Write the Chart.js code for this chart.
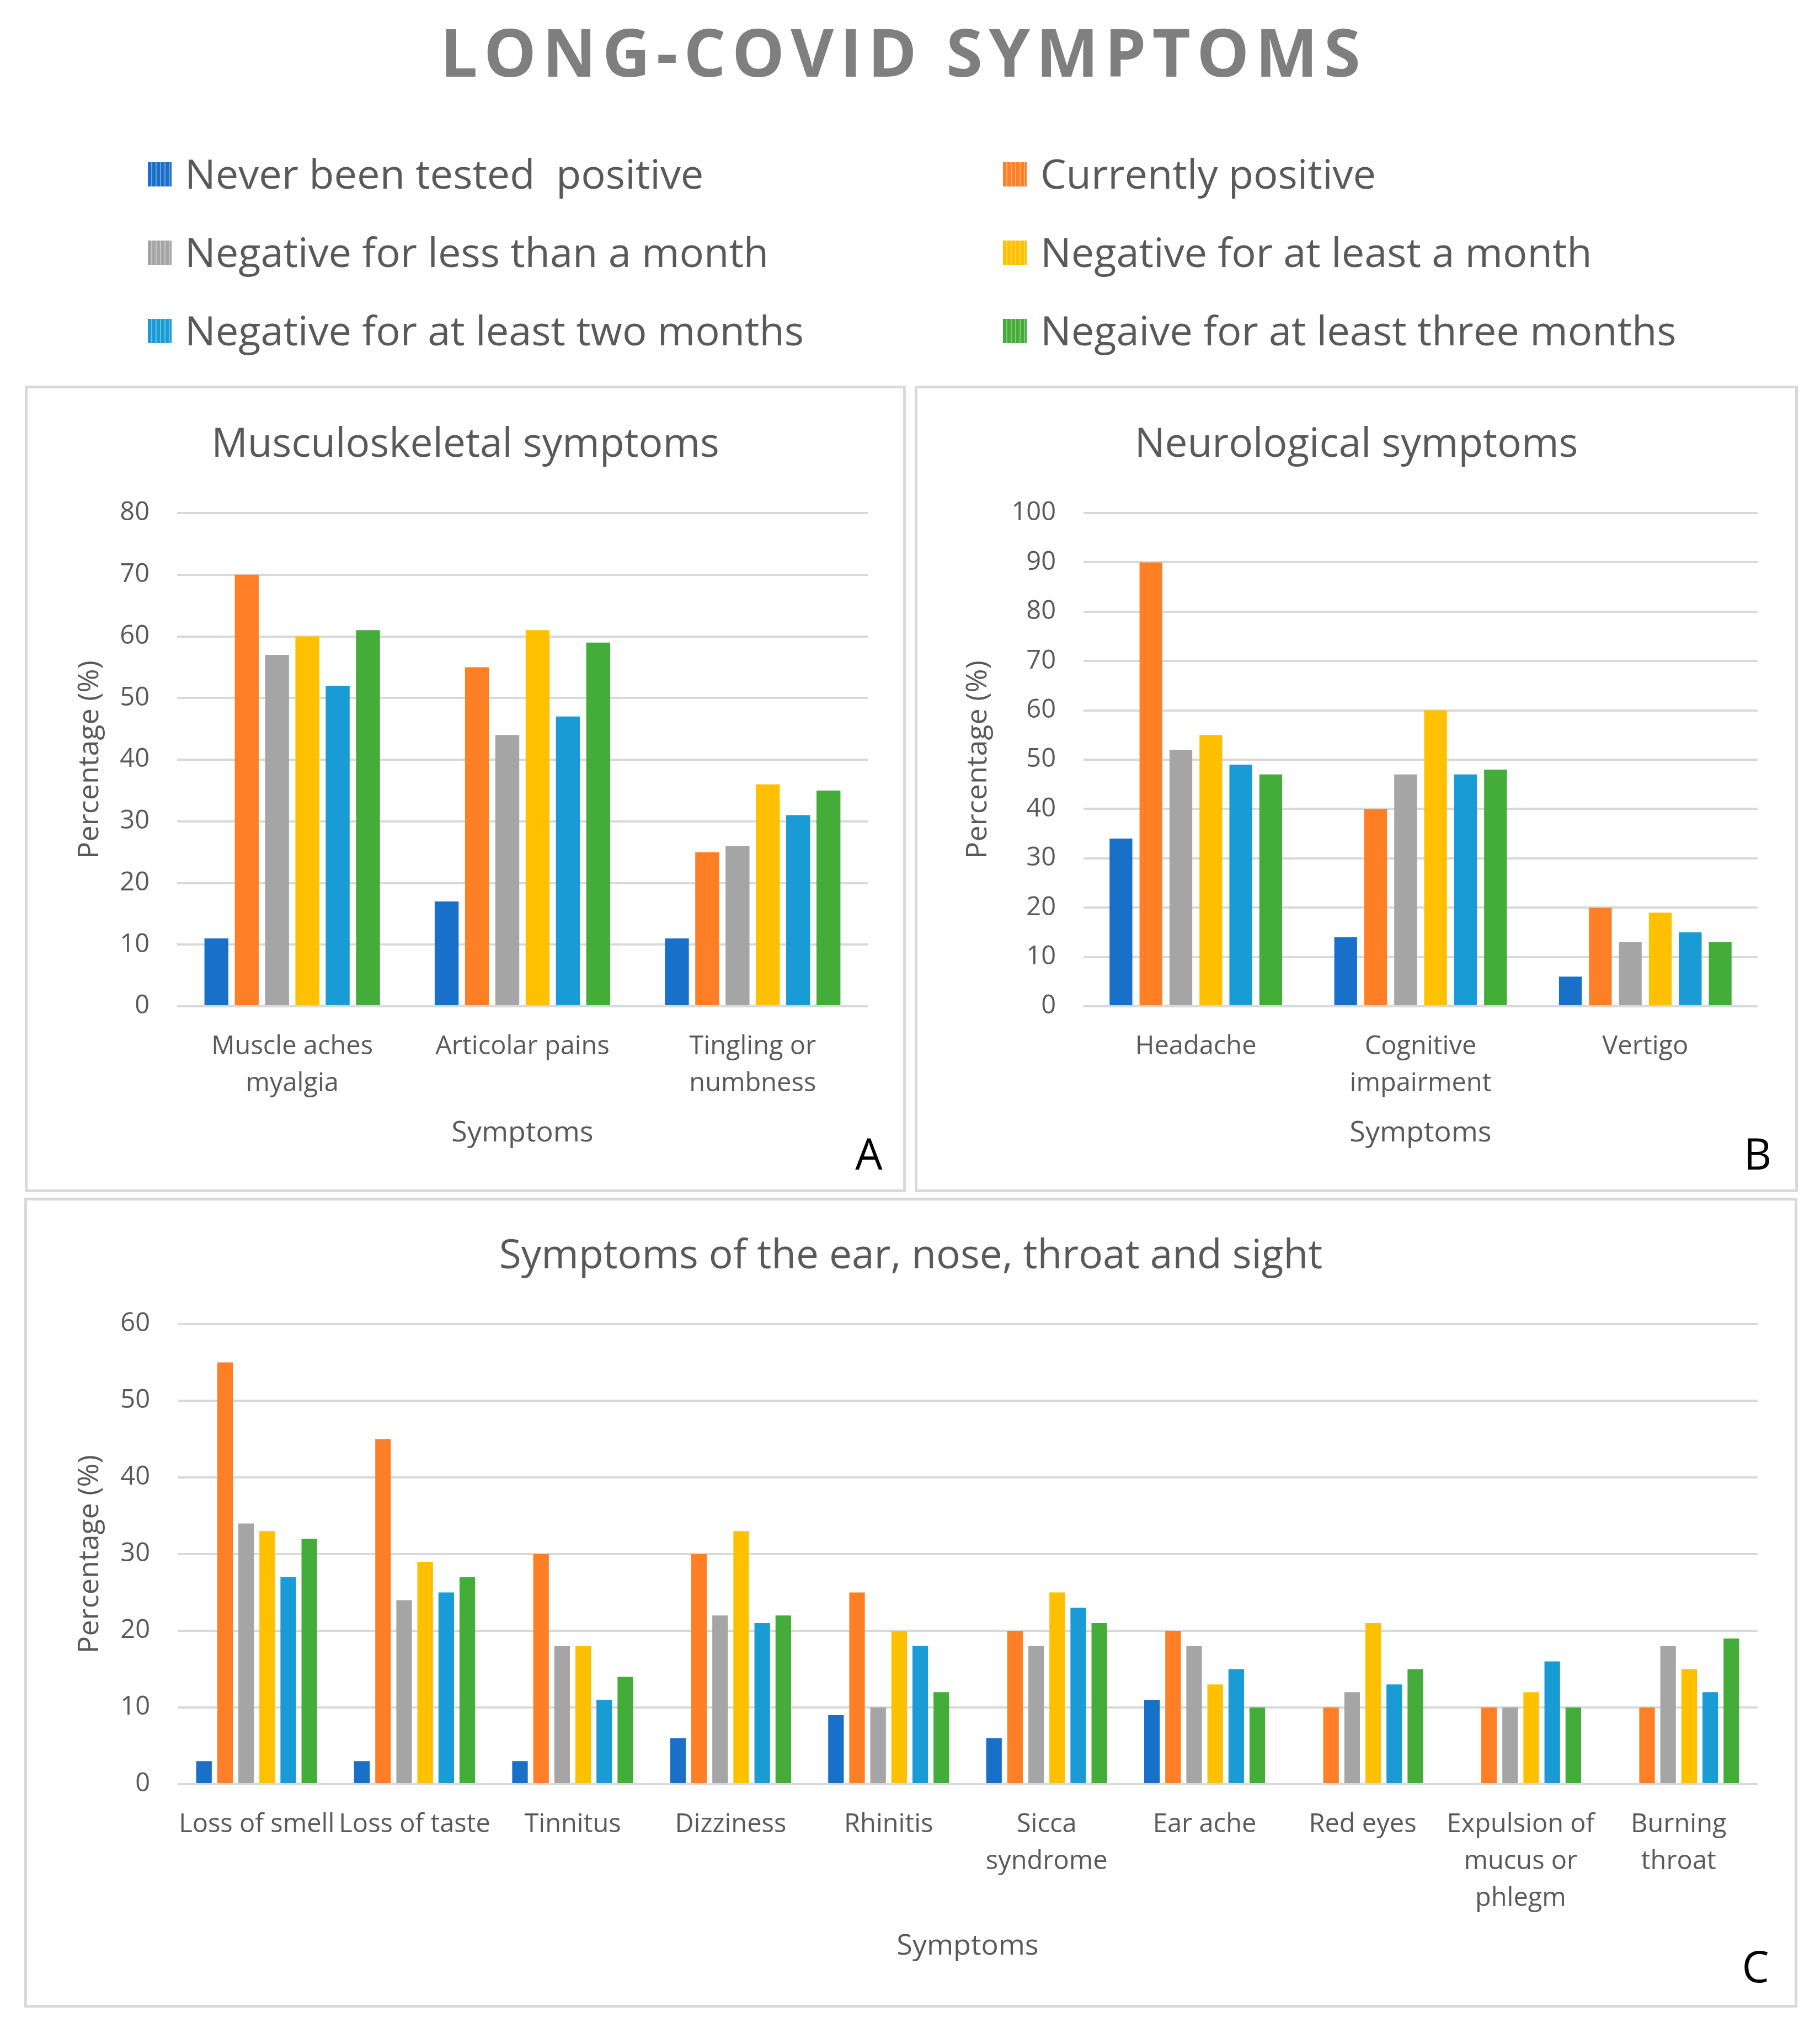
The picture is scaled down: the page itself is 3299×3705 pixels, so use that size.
<!DOCTYPE html>
<html><head><meta charset="utf-8">
<script src="https://cdn.jsdelivr.net/npm/chart.js@4.4.1/dist/chart.umd.min.js"></script>
<style>
html,body{margin:0;padding:0;background:#fff;}
body{width:3299px;height:3705px;position:relative;overflow:hidden;font-family:'Open Sans',sans-serif;}
#title{position:absolute;left:798px;top:23px;font-weight:700;font-size:120px;line-height:140px;color:#7f7f7f;letter-spacing:11px;white-space:nowrap;}
.leg{position:absolute;font-size:74px;line-height:100px;color:#595959;white-space:pre;}
.mk{position:absolute;width:43px;height:44px;}
.panel{position:absolute;border:5px solid #d9d9d9;box-sizing:border-box;pointer-events:none;}
canvas{position:absolute;}
.tag{position:absolute;width:200px;text-align:center;font-size:78px;line-height:100px;color:#000;}
</style></head>
<body>
<div id="title">LONG-COVID SYMPTOMS</div>
<div id="legend"></div>
<canvas id="cA" width="1593" height="1458" style="left:47px;top:701px;width:1593px;height:1458px"></canvas>
<canvas id="cB" width="1597" height="1458" style="left:1660px;top:701px;width:1597px;height:1458px"></canvas>
<canvas id="cC" width="3210" height="1464" style="left:46px;top:2173px;width:3210px;height:1464px"></canvas>
<div class="panel" style="left:45px;top:699px;width:1597px;height:1462px"></div>
<div class="panel" style="left:1658px;top:699px;width:1601px;height:1462px"></div>
<div class="panel" style="left:44px;top:2171px;width:3214px;height:1468px"></div>
<div class="tag" style="left:1475px;top:2040px">A</div>
<div class="tag" style="left:3086px;top:2040px">B</div>
<div class="tag" style="left:3082px;top:3513px">C</div>
<script>
// ---- data ----
const seriesNames = ["Never been tested  positive","Currently positive","Negative for less than a month","Negative for at least a month","Negative for at least two months","Negaive for at least three months"];

const catsA = [["Muscle aches","myalgia"],"Articolar pains",["Tingling or","numbness"]];
const neverA = [11,17,11];
const currentA = [70,55,25];
const lessMonthA = [57,44,26];
const oneMonthA = [60,61,36];
const twoMonthsA = [52,47,31];
const threeMonthsA = [61,59,35];

const catsB = ["Headache",["Cognitive","impairment"],"Vertigo"];
const neverB = [34,14,6];
const currentB = [90,40,20];
const lessMonthB = [52,47,13];
const oneMonthB = [55,60,19];
const twoMonthsB = [49,47,15];
const threeMonthsB = [47,48,13];

const catsC = ["Loss of smell","Loss of taste","Tinnitus","Dizziness","Rhinitis",["Sicca","syndrome"],"Ear ache","Red eyes",["Expulsion of","mucus or","phlegm"],["Burning","throat"]];
const neverC = [3,3,3,6,9,6,11,0,0,0];
const currentC = [55,45,30,30,25,20,20,10,10,10];
const lessMonthC = [34,24,18,22,10,18,18,12,10,18];
const oneMonthC = [33,29,18,33,20,25,13,21,12,15];
const twoMonthsC = [27,25,11,21,18,23,15,13,16,12];
const threeMonthsC = [32,27,14,22,12,21,10,15,10,19];

const yTicksMax = {A:80, B:100, C:60};

// ---- styles ----
const colors = ['#1870C8','#FF7F27','#A5A5A5','#FFC000','#199BD6','#44AD3A'];
const textColor = '#595959';
const FAM = "'Open Sans', sans-serif";

// legend (HTML)
(function(){
  const leg = document.getElementById('legend');
  const rows = [316,458,600];
  const cols = [{mk:268, tx:335},{mk:1818, tx:1886}];
  seriesNames.forEach((n,i)=>{
    const r = Math.floor(i/2), c = i%2;
    const m = document.createElement('div');
    m.className='mk';
    m.style.left = cols[c].mk+'px';
    m.style.top = (rows[r]-22)+'px';
    m.style.background = 'repeating-linear-gradient(90deg,'+colors[i]+' 0 6px, rgba(255,255,255,0.35) 6px 8px),'+colors[i];
    leg.appendChild(m);
    const t = document.createElement('div');
    t.className='leg';
    t.style.left = cols[c].tx+'px';
    t.style.top = (rows[r]-52)+'px';
    t.textContent = n;
    leg.appendChild(t);
  });
})();

function makeChart(id, labels, values, yMax, g){
  const datasets = values.map((v,i)=>({
    label: seriesNames[i], data: v, backgroundColor: colors[i], borderWidth:0,
    categoryPercentage: g.catPct, barPercentage: g.barPct, yAxisID:'y'
  }));
  return new Chart(document.getElementById(id), {
    type:'bar',
    data:{labels, datasets},
    options:{
      responsive:false, animation:false, devicePixelRatio:1,
      layout:{padding:0},
      plugins:{
        legend:{display:false}, tooltip:{enabled:false},
        title:{display:true, text:g.title, color:textColor,
          font:{family:FAM, size:73, weight:'normal', lineHeight:1.2},
          padding:{top:g.tPadTop, bottom:g.tPadBot}}
      },
      scales:{
        x:{
          grid:{display:false, drawTicks:false}, border:{display:false},
          ticks:{color:textColor, font:{family:FAM, size:47, lineHeight:1.43}, padding:40, autoSkip:false, maxRotation:0, minRotation:0},
          title:{display:true, text:'Symptoms', color:textColor, font:{family:FAM, size:52, lineHeight:1.2}, padding:{top:0,bottom:g.xtPadBot}},
          afterFit:(s)=>{ s.height = g.xH; }
        },
        y:{
          position:'left', min:0, max:yMax,
          grid:{color:'#d9d9d9', lineWidth:4, drawTicks:false}, border:{display:false},
          ticks:{stepSize:10, color:textColor, font:{family:FAM, size:47}, padding:50},
          title:{display:true, text:'Percentage (%)', color:textColor, font:{family:FAM, size:52, lineHeight:1.2}, padding:{top:g.ytPad,bottom:0}},
          afterFit:(s)=>{ s.width = g.yW; }
        },
        yRightSpace:{
          position:'right', display:true, min:0, max:yMax,
          grid:{display:false, drawTicks:false}, border:{display:false},
          ticks:{display:false},
          afterFit:(s)=>{ s.width = g.padR; }
        }
      }
    }
  });
}

function draw(){
  makeChart('cA', catsA, [neverA,currentA,lessMonthA,oneMonthA,twoMonthsA,threeMonthsA], yTicksMax.A,
    {title:'Musculoskeletal symptoms', padR:67, tPadTop:62, tPadBot:79.4, xH:335, xtPadBot:74, yW:274, ytPad:85, catPct:0.79, barPct:0.79});
  makeChart('cB', catsB, [neverB,currentB,lessMonthB,oneMonthB,twoMonthsB,threeMonthsB], yTicksMax.B,
    {title:'Neurological symptoms', padR:71, tPadTop:62, tPadBot:79.4, xH:335, xtPadBot:74, yW:304, ytPad:82, catPct:0.80, barPct:0.76});
  makeChart('cC', catsC, [neverC,currentC,lessMonthC,oneMonthC,twoMonthsC,threeMonthsC], yTicksMax.C,
    {title:'Symptoms of the ear, nose, throat and sight', padR:70, tPadTop:61, tPadBot:78.4, xH:403, xtPadBot:78, yW:276, ytPad:86, catPct:0.80, barPct:0.74});
}
if (document.fonts && document.fonts.load) {
  Promise.all([document.fonts.load("47px 'Open Sans'"), document.fonts.load("bold 120px 'Open Sans'")]).then(draw, draw);
} else { draw(); }
</script>
</body></html>
